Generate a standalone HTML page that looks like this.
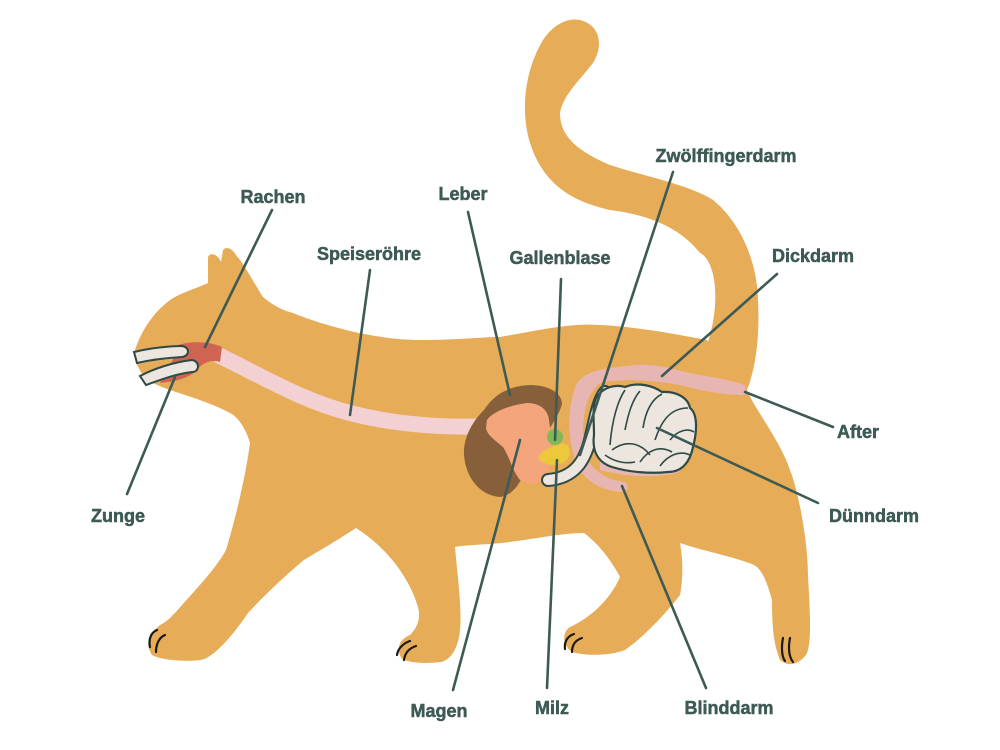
<!DOCTYPE html>
<html><head><meta charset="utf-8"><style>
html,body{margin:0;padding:0;background:#fff;}
svg{display:block;}
text{font-family:"Liberation Sans",sans-serif;font-weight:900;font-size:18px;fill:#3e5a55;text-anchor:middle;stroke:#3e5a55;stroke-width:0.5px;}
</style></head><body>
<svg width="1000" height="750" viewBox="0 0 1000 750" xmlns="http://www.w3.org/2000/svg">
<path d="M707 345 C722 300 715 260 700 253 C680 228 650 215 610 210 C580 203 545 190 530 143 C520 110 525 70 543 40 C555 22 570 18 580 20 C600 25 604 45 593 63 C580 80 563 95 560 113 C560 135 575 150 610 165 C640 175 690 185 713 200 C740 222 757 260 758 300 C760 340 755 370 747 390 Z" fill="#e7ac58"/>
<path d="M135 350 C140 335 150 315 170 300 C180 293 195 289 208 283 L208 257 C210 252 218 254 221 262 L223 250 C226 246 232 248 236 255 C245 265 255 285 263 297 C275 307 285 311 293 313 C330 328 380 340 420 340 C460 340 480 337 500 337 C540 330 570 323 600 325 C640 327 680 335 707 340 L747 390 C755 410 780 440 790 470 C798 490 808 540 808 577 C810 610 812 645 806 655 C798 665 788 667 780 660 C774 645 772 630 772 600 C765 575 760 566 749 563 C730 556 700 550 680 543 C684 565 682 585 680 595 C665 615 640 640 625 650 C610 656 585 656 572 652 C562 645 562 632 570 627 C590 618 610 600 620 577 C612 562 600 545 584 533 C560 533 530 540 501 543 C480 545 465 545 455 547 C458 580 462 610 460 630 C458 650 450 660 441 662 C425 664 410 663 402 659 C396 650 398 640 410 635 C420 625 420 615 418 607 C410 580 390 550 356 528 C330 545 315 553 304 560 C280 580 260 600 248 613 C230 640 210 660 200 660 C185 662 160 660 152 655 C145 645 148 635 160 625 C170 620 172 615 175 613 C195 590 215 570 226 550 C235 520 245 480 250 443 C245 425 235 415 230 413 C215 405 200 400 185 395 C170 390 160 387 147 380 C138 370 134 360 135 350 Z" fill="#e7ac58"/>
<g fill="none" stroke="#1a1a1a" stroke-width="2.2" stroke-linecap="round">
<path d="M150 647 C148 638 152 632 157 630"/><path d="M156 652 C156 643 160 637 165 635"/>
<path d="M397 655 C398 648 404 643 410 641"/><path d="M404 660 C405 652 410 648 416 646"/>
<path d="M565 649 C564 641 568 636 574 634"/><path d="M572 652 C572 644 576 640 582 638"/>
<path d="M783 638 C781 648 782 657 785 661"/><path d="M790 638 C788 648 789 657 793 662"/>
</g>
<path d="M218 355 C260 375 300 400 350 413 C400 426 450 428 495 426" fill="none" stroke="#f3d1d3" stroke-width="16"/>
<path d="M178 345 C190 341 210 341 222 347 L220 362 C210 358 200 365 195 372 C185 380 170 382 160 383 C165 372 175 360 178 345 Z" fill="#cf6453"/>
<g fill="#ece6df" stroke="#2e4a45" stroke-width="2">
<path d="M134 352 C150 348 170 346 182 346 C190 347 190 356 182 357 C165 358 150 360 137 363 Z"/>
<path d="M140 376 C155 368 175 362 192 360 C200 361 200 372 192 372 C175 374 160 380 146 385 Z"/>
</g>
<path d="M577 383 C585 372 600 368 637 365 C660 363 680 372 700 375 C720 378 735 382 745 385 L745 395 C720 395 700 390 680 385 C650 380 620 378 600 383 C585 395 580 420 585 455 C595 475 610 480 625 482 C630 487 628 492 620 492 C605 490 590 485 580 470 C568 450 565 410 577 383 Z" fill="#e8b6b2"/>
<path d="M600 470 C630 478 660 478 680 472 L680 462 L600 460 Z" fill="#e8b6b2"/>
<path d="M484 410 C495 393 510 386 530 385 C547 385 562 392 562 404 C558 420 540 440 530 460 C522 480 515 495 500 497 C482 496 466 480 464 455 C463 438 472 422 484 410 Z" fill="#87603b"/>
<path d="M487 420 C492 412 510 405 527 403 C540 403 548 410 549 420 C552 440 552 465 547 477 C542 485 528 485 520 480 C512 470 510 458 503 447 C495 440 487 435 486 428 Z" fill="#f4a57b"/>
<circle cx="555" cy="437" r="8" fill="#7fba5a"/>
<path d="M538 458 C542 450 550 447 563 443 C572 445 572 458 563 463 C555 466 545 466 538 458 Z" fill="#ecc93a"/>
<path d="M548 480 C575 478 585 460 590 440 C595 420 598 400 605 392" fill="none" stroke="#2e4a45" stroke-width="14" stroke-linecap="round"/>
<path d="M548 480 C575 478 585 460 590 440 C595 420 598 400 605 392" fill="none" stroke="#ece6df" stroke-width="10" stroke-linecap="round"/>
<path d="M596 398 C603 387 615 384 625 387 C637 382 652 385 662 392 C675 391 688 397 690 408 C698 414 697 432 693 447 C690 462 682 472 668 472 C650 474 628 472 612 467 C597 462 592 450 594 435 C594 420 592 408 596 398 Z" fill="#ece6df" stroke="#2e4a45" stroke-width="2.2"/>
<g fill="none" stroke="#2e4a45" stroke-width="1.6">
<path d="M610 445 C612 420 618 400 625 390"/><path d="M625 430 C628 415 632 400 640 391"/>
<path d="M643 428 C645 415 650 400 662 394"/><path d="M655 440 C660 425 668 408 688 408"/>
<path d="M612 450 C625 440 640 442 650 455"/><path d="M640 462 C648 450 660 445 672 452"/>
<path d="M660 466 C668 455 680 450 690 455"/><path d="M670 440 C678 430 688 428 694 432"/>
<path d="M605 455 C615 462 625 464 635 462"/>
</g>
<g stroke="#3e5a55" stroke-width="2.6" stroke-linecap="round">
<line x1="272" y1="210" x2="205" y2="347"/>
<line x1="370" y1="270" x2="350" y2="415"/>
<line x1="468" y1="212" x2="510" y2="395"/>
<line x1="561" y1="279" x2="555" y2="440"/>
<line x1="673" y1="172" x2="580" y2="455"/>
<line x1="777" y1="274" x2="662" y2="376"/>
<line x1="833" y1="427" x2="745" y2="392"/>
<line x1="818" y1="503" x2="657" y2="428"/>
<line x1="706" y1="688" x2="622" y2="486"/>
<line x1="547" y1="688" x2="557" y2="460"/>
<line x1="453" y1="690" x2="520" y2="440"/>
<line x1="127" y1="494" x2="175" y2="377"/>
</g>
<text x="273" y="203">Rachen</text>
<text x="369" y="260">Speiseröhre</text>
<text x="463" y="200">Leber</text>
<text x="560" y="264">Gallenblase</text>
<text x="726" y="162">Zwölffingerdarm</text>
<text x="813" y="262">Dickdarm</text>
<text x="858" y="438">After</text>
<text x="874" y="522">Dünndarm</text>
<text x="729" y="714">Blinddarm</text>
<text x="552" y="714">Milz</text>
<text x="439" y="717">Magen</text>
<text x="118" y="522">Zunge</text>
</svg>
</body></html>
